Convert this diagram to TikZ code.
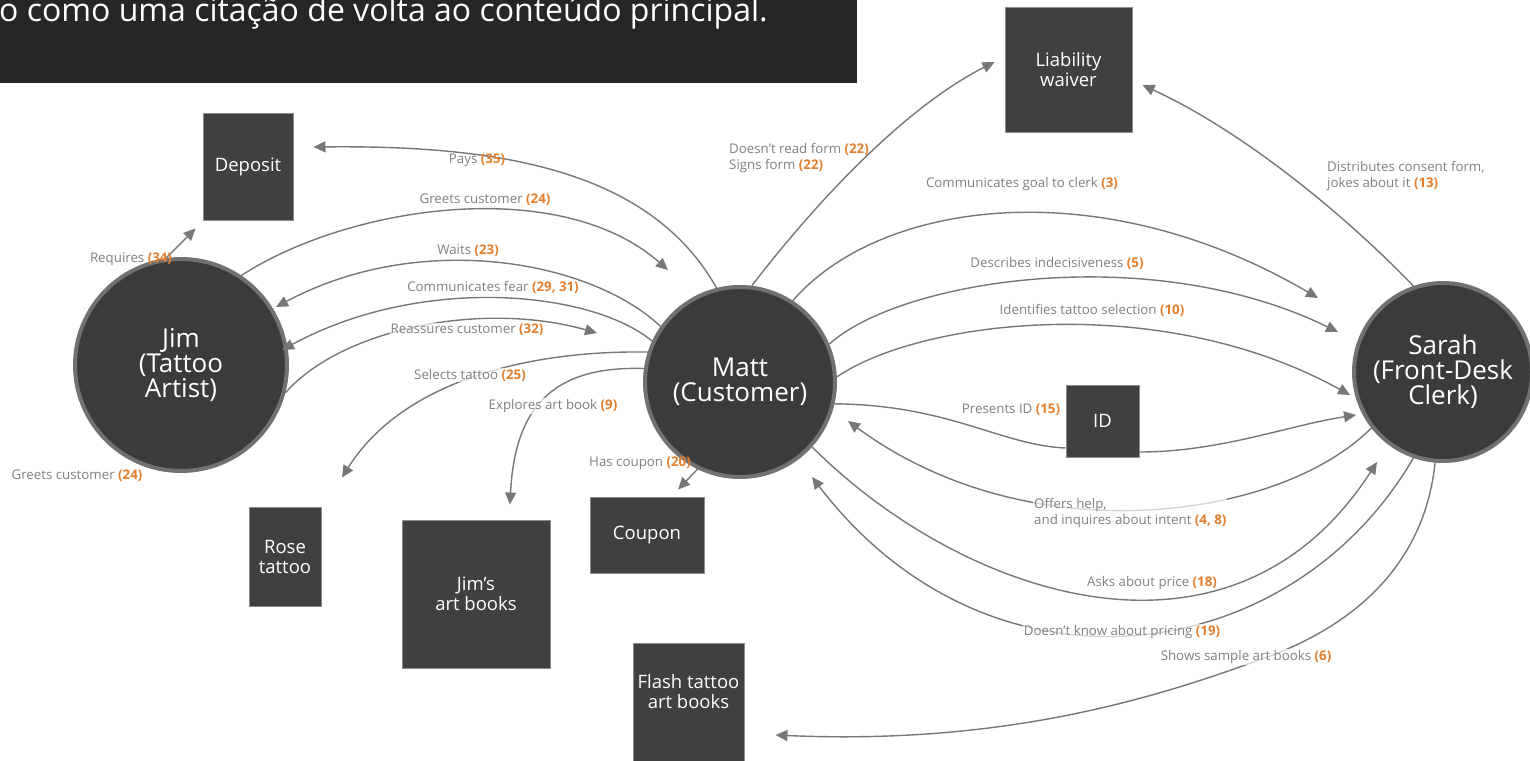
\documentclass[tikz,border=0pt]{standalone}
\usepackage{fontspec}
\setmainfont{Open Sans}
\usepackage{tikz}
\usetikzlibrary{calc,arrows.meta}
\definecolor{banner}{HTML}{262626}
\definecolor{actorfill}{HTML}{3B3B3B}
\definecolor{ringgray}{HTML}{717171}
\definecolor{boxfill}{HTML}{404040}
\definecolor{boxline}{HTML}{8C8C8C}
\definecolor{linkgray}{HTML}{777777}
\definecolor{lblgray}{HTML}{7F7F7F}
\definecolor{numorange}{HTML}{E57E2B}
\newcommand{\stepno}[1]{\textcolor{numorange}{\bfseries(#1)}}

\begin{document}
\begin{tikzpicture}[x=1pt,y=-1pt,
    actor/.style={circle,fill=actorfill,draw=ringgray,line width=4pt,text=white,
      inner sep=0pt,minimum size=#1,align=center,font=\fontsize{26}{25}\selectfont},
    thing/.style={rectangle,fill=boxfill,draw=boxline,line width=1pt,text=white,
      inner sep=0pt,align=center,font=\fontsize{18.5}{20}\selectfont},
    link/.style={draw=linkgray,line width=1.4pt,-{Triangle[length=12pt,width=11pt]}},
    lbl/.style={text=lblgray,inner sep=1pt,font=\fontsize{13.3}{16.5}\selectfont},
    onlbl/.style={lbl,fill=white,fill opacity=0.7,text opacity=1}]
  \useasboundingbox (0,0) rectangle (1530,760);
  \fill[banner] (0,0) rectangle (857,83);
  \node[anchor=base west,text=white,inner sep=0pt,font=\fontsize{32}{36}\selectfont] (bannertext) at (-1,22) {o como uma citação de volta ao conteúdo principal.};

  \node[actor=212pt] (jim) at (181,365) {Jim\\(Tattoo\\Artist)};
  \node[actor=190pt] (matt) at (740,382) {Matt\\(Customer)};
  \node[actor=178pt] (sarah) at (1443,372) {Sarah\\(Front-Desk\\Clerk)};

  \node[thing,minimum width=90pt,minimum height=107pt] (deposit) at (248,166.5) {Deposit};
  \node[thing,minimum width=127pt,minimum height=124pt] (waiver) at (1068.5,70) {Liability\\waiver};
  \node[thing,minimum width=72pt,minimum height=99pt] (rose) at (285,556.5) {Rose\\tattoo};
  \node[thing,minimum width=148pt,minimum height=148pt] (jimbooks) at (476,594) {Jim’s\\art books};
  \node[thing,minimum width=114pt,minimum height=76pt] (coupon) at (647,535) {Coupon};
  \node[thing,minimum width=111pt,minimum height=150pt,text depth=54pt] (flash) at (688.5,718) {Flash tattoo\\art books};
  \node[thing,minimum width=73pt,minimum height=72pt] (id) at (1102.5,421) {ID};

  \draw[link] (matt.104) .. controls (650,170) and (500,145) .. ($(deposit.east)+(20,-19.5)$);
  \draw[link] (jim.56) .. controls (350,205) and (560,175) .. ($(matt.center)+(-72,-112)$);
  \draw[link] (matt.145) .. controls (590,260) and (420,230) .. ($(jim.center)+(95,-58)$);
  \draw[link] (matt.155) .. controls (590,290) and (420,275) .. ($(jim.center)+(101,-15)$);
  \draw[link] (jim.-15) .. controls (340,330) and (480,300) .. ($(matt.center)+(-143,-49)$);
  \draw[link] (matt.162) .. controls (520,350) and (400,385) .. ($(rose.north)+(57,-29)$);
  \draw[link] (matt.172) .. controls (560,366) and (515,400) .. ($(jimbooks.north)+(34,-15)$);
  \draw[link] (matt.244) -- ($(coupon.north)+(31,-7)$);
  \draw[link] (matt.83) .. controls (810,210) and (900,110) .. ($(waiver.west)+(-10,-8)$);
  \draw[link] (matt.57) .. controls (880,200) and (1100,170) .. ($(sarah.center)+(-125,-74)$);
  \draw[link] (matt.23) .. controls (900,280) and (1150,240) .. ($(sarah.center)+(-105,-40)$);
  \draw[link] (matt.3) .. controls (920,320) and (1160,290) .. ($(sarah.center)+(-93,23)$);
  \draw[link,-] (matt.-13) .. controls (950,405) and (1000,445) .. ($(id.west)+(0,27)$);
  \draw[link] ($(id.east)+(0,31)$) .. controls (1220,452) and (1290,425) .. ($(sarah.center)+(-87,43)$);
  \draw[link] (sarah.218) .. controls (1280,520) and (1030,555) .. ($(matt.center)+(108,39)$);
  \draw[link] (matt.-42) .. controls (960,595) and (1230,690) .. ($(sarah.center)+(-66,90)$);
  \draw[link] (sarah.251) .. controls (1290,670) and (990,710) .. ($(matt.center)+(72,95)$);
  \draw[link] (sarah.265) .. controls (1425,560) and (1360,625) .. (1259,660)
    .. controls (1150,700) and (1000,745) .. ($(flash.east)+(31,17)$);
  \draw[link] (sarah.109) .. controls (1340,210) and (1240,130) .. ($(waiver.east)+(10,15)$);
  \draw[link] (jim.98) -- ($(deposit.south west)+(-7,8)$);

  \node[lbl] (lpays) at (477,160) {Pays \stepno{35}};
  \node[onlbl] (lgreets) at (485,200) {Greets customer \stepno{24}};
  \node[lbl] (lwaits) at (468,251) {Waits \stepno{23}};
  \node[lbl] (lfear) at (493,287) {Communicates fear \stepno{29, 31}};
  \node[onlbl] (lreassure) at (467,330) {Reassures customer \stepno{32}};
  \node[onlbl] (lselects) at (470,375) {Selects tattoo \stepno{25}};
  \node[onlbl] (lexplores) at (553,406) {Explores art book \stepno{9}};
  \node[lbl] (lcoupon) at (640,463) {Has coupon \stepno{20}};
  \node[lbl,anchor=west,align=left] (lform) at (728,158) {Doesn’t read form \stepno{22}\\Signs form \stepno{22}};
  \node[lbl] (lgoal) at (1022,184) {Communicates goal to clerk \stepno{3}};
  \node[lbl] (lindecis) at (1057,263) {Describes indecisiveness \stepno{5}};
  \node[lbl] (lidentify) at (1092,310) {Identifies tattoo selection \stepno{10}};
  \node[lbl] (lpresents) at (1011,410) {Presents ID \stepno{15}};
  \node[onlbl,anchor=north west,align=left] (loffers) at (1033,497) {Offers help,\\and inquires about intent \stepno{4, 8}};
  \node[lbl] (lasks) at (1152,583) {Asks about price \stepno{18}};
  \node[onlbl] (lpricing) at (1122,632) {Doesn’t know about pricing \stepno{19}};
  \node[onlbl] (lshows) at (1246,657) {Shows sample art books \stepno{6}};
  \node[lbl,anchor=north west,align=left] (ldistrib) at (1326,160) {Distributes consent form,\\jokes about it \stepno{13}};
  \node[lbl] (lrequires) at (131,259) {Requires \stepno{34}};
  \node[lbl] (lgreetsalone) at (77,476) {Greets customer \stepno{24}};
\end{tikzpicture}
\end{document}
